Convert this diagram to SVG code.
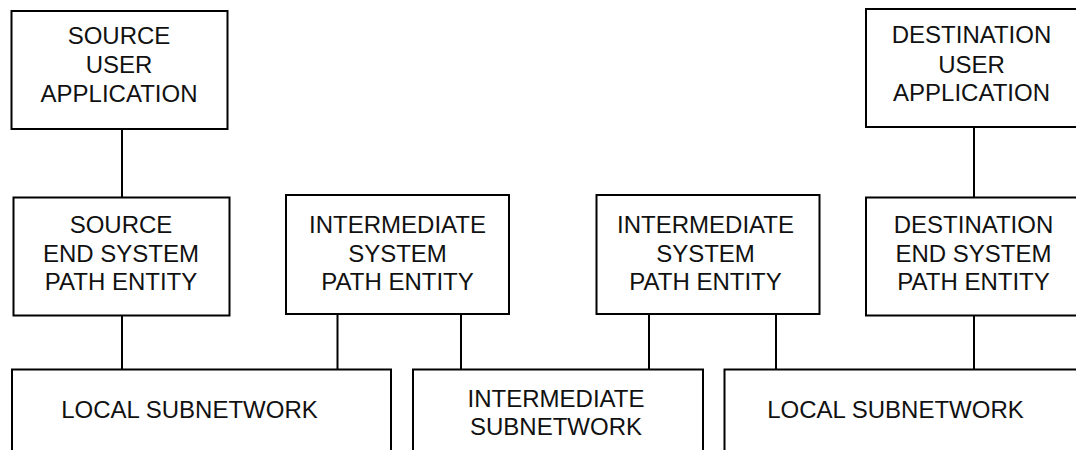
<svg xmlns="http://www.w3.org/2000/svg" width="1076" height="450" viewBox="0 0 1076 450">
  <style>
    .box { fill: #ffffff; stroke: #000000; stroke-width: 2; }
    .link { stroke: #000000; stroke-width: 2; fill: none; }
    .label { font-family: "Liberation Sans", Arial, sans-serif; font-size: 24px; fill: #111111; text-anchor: middle; }
  </style>
  <rect x="0" y="0" width="1076" height="450" fill="#ffffff"/>

  <!-- connectors between layers -->
  <g id="connectors">
    <line class="link" x1="122" y1="129" x2="122" y2="197.5"/>
    <line class="link" x1="122" y1="315.5" x2="122" y2="369.5"/>
    <line class="link" x1="337.5" y1="314" x2="337.5" y2="369.5"/>
    <line class="link" x1="461" y1="314" x2="461" y2="369.5"/>
    <line class="link" x1="649" y1="314" x2="649" y2="369.5"/>
    <line class="link" x1="776" y1="314" x2="776" y2="369.5"/>
    <line class="link" x1="974" y1="127" x2="974" y2="197.5"/>
    <line class="link" x1="974" y1="315.5" x2="974" y2="369.5"/>
  </g>

  <g id="source-user-application">
    <rect class="box" x="11.5" y="11" width="216" height="118"/>
    <text class="label" x="119" y="44">SOURCE</text>
    <text class="label" x="119" y="73">USER</text>
    <text class="label" x="119" y="101.5">APPLICATION</text>
  </g>

  <g id="destination-user-application">
    <rect class="box" x="866" y="9" width="220" height="118"/>
    <text class="label" x="971.5" y="43">DESTINATION</text>
    <text class="label" x="971.5" y="72.5">USER</text>
    <text class="label" x="971.5" y="100.5">APPLICATION</text>
  </g>

  <g id="source-end-system">
    <rect class="box" x="13.5" y="197.5" width="216" height="118"/>
    <text class="label" x="121" y="233">SOURCE</text>
    <text class="label" x="121" y="261.5">END SYSTEM</text>
    <text class="label" x="121" y="290">PATH ENTITY</text>
  </g>

  <g id="intermediate-system-1">
    <rect class="box" x="286" y="195" width="223" height="119"/>
    <text class="label" x="397.5" y="232.5">INTERMEDIATE</text>
    <text class="label" x="397.5" y="261.5">SYSTEM</text>
    <text class="label" x="397.5" y="290">PATH ENTITY</text>
  </g>

  <g id="intermediate-system-2">
    <rect class="box" x="596.5" y="195" width="223" height="119"/>
    <text class="label" x="705.5" y="232.5">INTERMEDIATE</text>
    <text class="label" x="705.5" y="261.5">SYSTEM</text>
    <text class="label" x="705.5" y="290">PATH ENTITY</text>
  </g>

  <g id="destination-end-system">
    <rect class="box" x="866" y="197.5" width="220" height="118"/>
    <text class="label" x="973.5" y="232.5">DESTINATION</text>
    <text class="label" x="973.5" y="261.5">END SYSTEM</text>
    <text class="label" x="973.5" y="290">PATH ENTITY</text>
  </g>

  <g id="local-subnetwork-source">
    <rect class="box" x="12" y="369.5" width="379" height="110"/>
    <text class="label" x="189.5" y="418">LOCAL SUBNETWORK</text>
  </g>

  <g id="intermediate-subnetwork">
    <rect class="box" x="413" y="369.5" width="290" height="110"/>
    <text class="label" x="556" y="406.5">INTERMEDIATE</text>
    <text class="label" x="556" y="435">SUBNETWORK</text>
  </g>

  <g id="local-subnetwork-destination">
    <rect class="box" x="724.5" y="369.5" width="400" height="110"/>
    <text class="label" x="895.5" y="418">LOCAL SUBNETWORK</text>
  </g>
</svg>
